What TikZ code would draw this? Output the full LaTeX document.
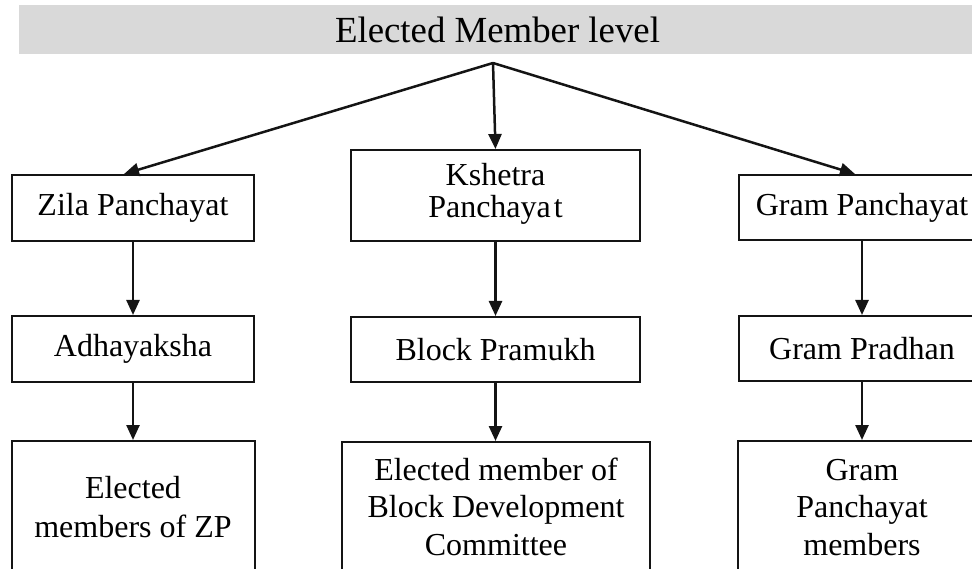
\documentclass[tikz,border=0pt]{standalone}
\usepackage{fontspec}
\setmainfont{Liberation Serif}
\usetikzlibrary{arrows.meta}
\definecolor{bargray}{HTML}{D9D9D9}
\definecolor{ink}{HTML}{141414}
\begin{document}
\begin{tikzpicture}[x=1pt,y=-1pt,
  box/.style={draw=ink, line width=2pt, rectangle, inner sep=0pt, align=center,
              font=\fontsize{32}{32}\selectfont},
  conn/.style={draw=ink, line width=2.5pt, -{Triangle[length=15pt,width=13pt]}},
  lbl/.style={inner sep=0pt, align=center, text=black}]
\useasboundingbox (0,0) rectangle (972,569);
\clip (0,0) rectangle (972,569);
% title bar
\node[fill=bargray, minimum width=957pt, minimum height=49pt, inner sep=0pt,
      font=\fontsize{36.8}{40}\selectfont] (title) at (497.5,29.5) {Elected Member level};
% first row
\node[box, minimum width=242pt, minimum height=66pt] (zila) at (133,208) {Zila Panchayat};
\node[box, minimum width=289pt, minimum height=91pt] (ksh) at (495.5,195.5)
     {\strut Kshetra\\\strut Panchaya\kern3pt t};
\node[box, minimum width=246pt, minimum height=65pt] (gp) at (862,207.5) {Gram Panchayat};
% second row
\node[box, minimum width=242pt, minimum height=66pt] (adh) at (133,349) {Adhayaksha};
\node[box, minimum width=289pt, minimum height=65pt] (bp) at (495.5,349.5) {Block Pramukh};
\node[box, minimum width=246pt, minimum height=65pt] (gpr) at (862,348.5) {Gram Pradhan};
% third row (cut off by the page edge)
\node[box, minimum width=243pt, minimum height=200pt] (zpm) at (133,541) {};
\node[box, minimum width=308pt, minimum height=200pt] (bdc) at (495.5,542) {};
\node[box, minimum width=248pt, minimum height=200pt] (gpm) at (862,541) {};
\node[lbl, font=\fontsize{32}{39}\selectfont] (zpmt) at (133,509.7)
     {\strut Elected\\\strut members of ZP};
\node[lbl, font=\fontsize{32}{37.5}\selectfont] (bdct) at (496,510)
     {\strut Elected member of\\\strut Block Development\\\strut Committee};
\node[lbl, font=\fontsize{32}{37.5}\selectfont] (gpmt) at (862,510)
     {\strut Gram\\\strut Panchayat\\\strut members};
% connectors
\coordinate (apex) at (493,63);
\draw[conn] (apex) -- ([xshift=-9pt]zila.north);
\draw[conn] (apex) -- (ksh.north);
\draw[conn] (apex) -- ([xshift=-7pt]gp.north);
\draw[conn] (zila.south) -- (adh.north);
\draw[conn] (ksh.south) -- (bp.north);
\draw[conn] (gp.south) -- (gpr.north);
\draw[conn] (adh.south) -- (zpm.north);
\draw[conn] (bp.south) -- (bdc.north);
\draw[conn] (gpr.south) -- (gpm.north);
\end{tikzpicture}
\end{document}
